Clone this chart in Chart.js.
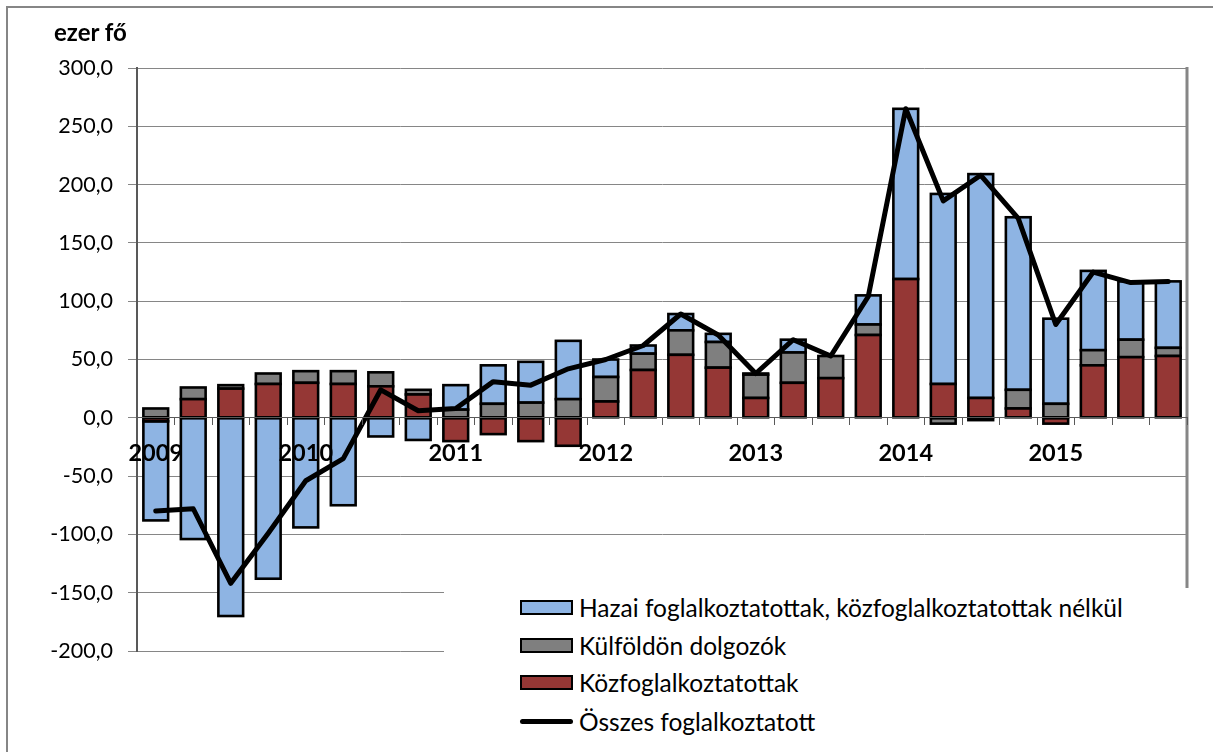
<!DOCTYPE html>
<html>
<head>
<meta charset="utf-8">
<script src="https://cdn.jsdelivr.net/npm/chart.js@4.4.1/dist/chart.umd.min.js"></script>
<style>
  body { margin: 0; background: #fff; }
  #wrap { position: relative; width: 1213px; height: 752px; overflow: hidden; font-family: Lato, "Noto Sans", sans-serif; color: #000; }
  #frame { position: absolute; left: 6px; top: 6px; width: 1300px; height: 900px; border-top: 2px solid #868686; border-left: 2px solid #868686; }
  #chart { position: absolute; left: 0; top: 0; }
  #unit { position: absolute; left: 54px; top: 17px; font-weight: bold; font-size: 24px; }
  #legend { position: absolute; left: 444px; top: 588px; width: 800px; height: 200px; background: #fff; }
  .row { position: absolute; left: 76px; height: 30px; display: flex; align-items: center; font-size: 24.5px; white-space: nowrap; }
  .sw { width: 49px; height: 11px; border: 2px solid #000; margin-right: 6px; }
  .ln { width: 53px; height: 5px; background: #000; border-radius: 3px; margin-right: 6px; }
</style>
</head>
<body>
<div id="wrap">
  <div id="frame"></div>
  <canvas id="chart" width="1213" height="752"></canvas>
  <div id="unit">ezer fő</div>
  <div id="legend">
    <div class="row" style="top:4px"><div class="sw" style="background:#8EB4E3"></div>Hazai foglalkoztatottak, közfoglalkoztatottak nélkül</div>
    <div class="row" style="top:42px"><div class="sw" style="background:#7F7F7F"></div>Külföldön dolgozók</div>
    <div class="row" style="top:79px"><div class="sw" style="background:#953735"></div>Közfoglalkoztatottak</div>
    <div class="row" style="top:118px"><div class="ln"></div>Összes foglalkoztatott</div>
  </div>
</div>
<script>
// quarters 2009 I. - 2015 IV., only the first quarter carries the year
const categories = [
  '2009', '', '', '', '2010', '', '', '', '2011', '', '', '', '2012', '', '', '',
  '2013', '', '', '', '2014', '', '', '', '2015', '', '', ''
];

const hazai = [-85, -104, -170, -138, -94, -75, -16, -19, 21, 33, 35, 50, 15, 7,
  14, 7, 1, 11, 0, 25, 146, 163, 192, 148, 73, 68, 50, 57];
const kulfoldon = [8, 10, 3, 9, 10, 11, 12, 4, 7, 12, 13, 16, 21, 14,
  21, 22, 20, 26, 19, 9, 0, -5, -2, 16, 12, 13, 15, 7];
const kozfogl = [-3, 16, 25, 29, 30, 29, 27, 20, -20, -14, -20, -24, 14, 41,
  54, 43, 17, 30, 34, 71, 119, 29, 17, 8, -5, 45, 52, 53];
const osszes = [-80, -78, -142, -99, -54, -35, 24, 6, 8, 31, 28, 42, 50, 62,
  89, 71, 38, 67, 53, 104, 265, 186, 208, 171, 80, 125, 116, 117];

const yMin = -200;
const yMax = 300;
const yStep = 50;

// right edge of the plot area
const plotBorder = {
  id: 'plotBorder',
  beforeDatasetsDraw(chart) {
    const { ctx, chartArea } = chart;
    ctx.save();
    ctx.strokeStyle = '#868686';
    ctx.lineWidth = 3;
    ctx.beginPath();
    ctx.moveTo(chartArea.right, chartArea.top - 1);
    ctx.lineTo(chartArea.right, chartArea.bottom);
    ctx.stroke();
    ctx.restore();
  }
};

// Excel style outline: stroke centred on the bar edges so stacked segments share one line
const barOutline = {
  id: 'barOutline',
  afterDatasetDraw(chart, args) {
    const meta = args.meta;
    if (meta.type !== 'bar') return;
    const ctx = chart.ctx;
    ctx.save();
    ctx.strokeStyle = '#000';
    ctx.lineWidth = 2.6;
    meta.data.forEach(bar => {
      const { x, y, base, width } = bar.getProps(['x', 'y', 'base', 'width'], true);
      if (Math.abs(base - y) < 0.5) return;
      ctx.strokeRect(x - width / 2, Math.min(y, base), width, Math.abs(base - y));
    });
    ctx.restore();
  }
};

function barSet(label, data, color) {
  return {
    type: 'bar',
    label,
    data,
    backgroundColor: color,
    borderWidth: 0,
    order: 1,
    stack: 'parts'
  };
}

const ctx = document.getElementById('chart').getContext('2d');
new Chart(ctx, {
  type: 'bar',
  data: {
    labels: categories,
    datasets: [
      {
        type: 'line',
        label: 'Összes foglalkoztatott',
        data: osszes,
        borderColor: '#000',
        borderWidth: 5,
        pointRadius: 0,
        tension: 0,
        borderJoinStyle: 'round',
        borderCapStyle: 'round',
        order: 0,
        stack: 'total'
      },
      barSet('Közfoglalkoztatottak', kozfogl, '#953735'),
      barSet('Külföldön dolgozók', kulfoldon, '#7F7F7F'),
      barSet('Hazai foglalkoztatottak, közfoglalkoztatottak nélkül', hazai, '#8EB4E3')
    ]
  },
  options: {
    responsive: false,
    animation: false,
    layout: { padding: { left: 0, top: 68, right: 26, bottom: 101 } },
    datasets: { bar: { categoryPercentage: 1, barPercentage: 0.66 } },
    plugins: {
      legend: { display: false },
      tooltip: { enabled: false }
    },
    scales: {
      x: {
        stacked: true,
        position: { y: 0 },
        offset: true,
        grid: { drawOnChartArea: false, offset: true, tickLength: 7, color: '#595959', z: 1 },
        border: { color: '#595959', width: 1, z: 1 },
        ticks: {
          z: 1,
          autoSkip: false,
          maxRotation: 0,
          padding: 15,
          color: '#000',
          font: { family: 'Lato', size: 23.5, weight: 'bold' }
        }
      },
      y: {
        stacked: true,
        min: yMin,
        max: yMax,
        afterFit(scale) { scale.width = 137; },
        grid: { color: '#868686', tickLength: 9 },
        border: { color: '#595959', width: 2 },
        ticks: {
          stepSize: yStep,
          padding: 15,
          color: '#000',
          font: { family: 'Lato', size: 21.5 },
          callback: v => v.toFixed(1).replace('.', ',')
        }
      }
    }
  },
  plugins: [plotBorder, barOutline]
});
</script>
</body>
</html>
